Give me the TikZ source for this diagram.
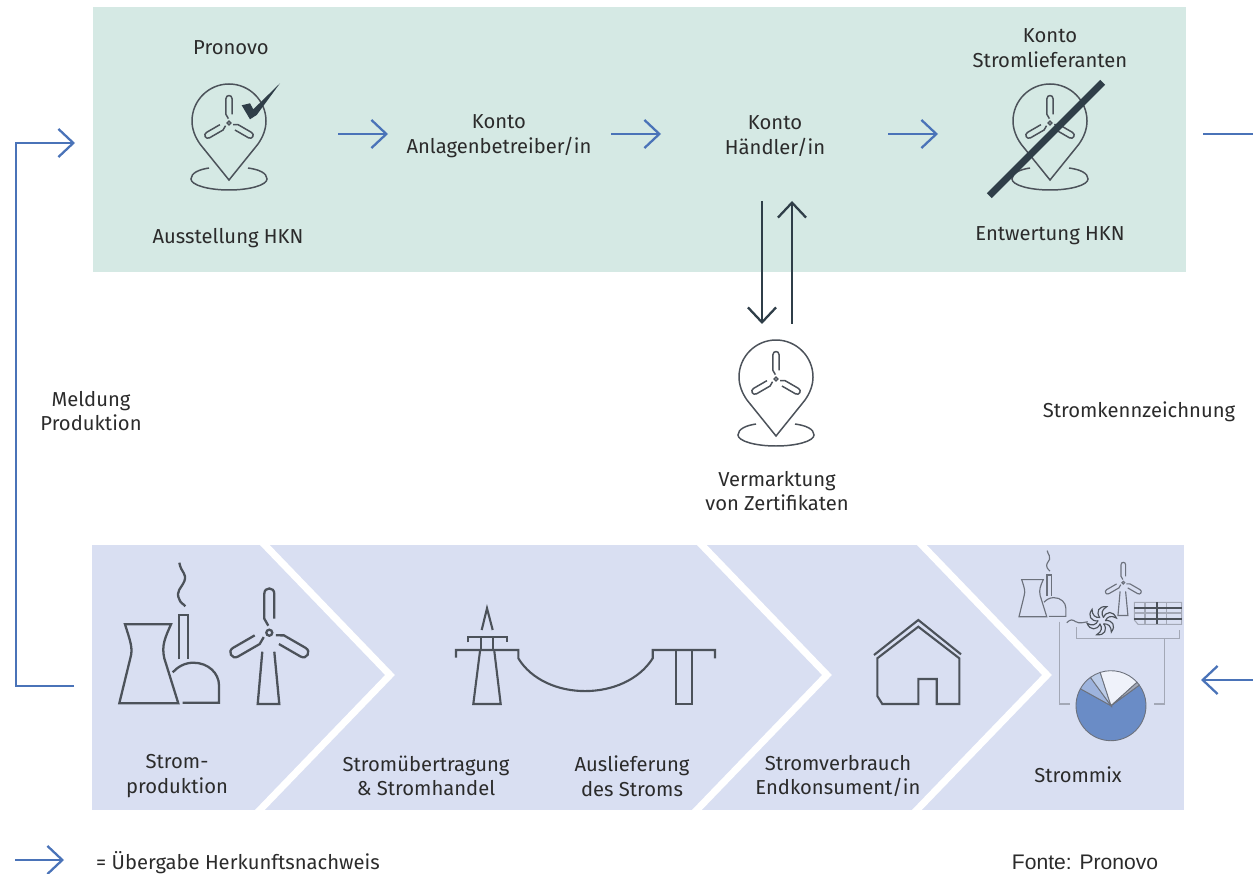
\documentclass[tikz,border=0pt]{standalone}
\usepackage{fontspec}
\setmainfont{Fira Sans}
\newfontfamily\sourcefont{Liberation Sans}
\usetikzlibrary{arrows.meta}
\definecolor{certgreen}{HTML}{D5E9E4}
\definecolor{chainblue}{HTML}{D9DFF2}
\definecolor{hknblue}{HTML}{4A73B8}
\definecolor{darkslate}{HTML}{2F3E48}
\definecolor{icongrey}{HTML}{4C525A}
\definecolor{thingrey}{HTML}{6C717C}
\definecolor{bracketgrey}{HTML}{A3A8B6}
\definecolor{labelgrey}{HTML}{2B2B2B}
\definecolor{piemain}{HTML}{6A8CC6}
\definecolor{piemid}{HTML}{9DB3DD}
\definecolor{pielight}{HTML}{BCCCE8}
\definecolor{piewhite}{HTML}{EFF2FA}

\begin{document}
\begin{tikzpicture}[x=0.02cm,y=-0.02cm,
            lbl/.style={align=center,text=labelgrey,font=\fontsize{11.5}{14}\selectfont,inner sep=0,outer sep=0},
            hkn arrow/.style={draw=hknblue,line width=1.3pt,-{Straight Barb[length=8.5pt,width=16pt,line width=1.3pt]}},
            hkn line/.style={draw=hknblue,line width=1.3pt},
            swap arrow/.style={draw=darkslate,line width=1.3pt,-{Straight Barb[length=8.5pt,width=16pt,line width=1.3pt]}},
            chevron/.style={draw=white,line width=4pt,miter limit=10},
            big icon/.style={color=icongrey,line width=1.3pt},
            pin icon/.style={color=icongrey,line width=0.85pt},
            small icon/.style={color=thingrey,line width=0.65pt},
            bracket/.style={draw=bracketgrey,line width=0.7pt},
            rotor/.pic={
                \foreach \a in {0,120,240}{
                \draw[rotate=\a] (-1,-7) -- (-5,-14) -- (-5,-39) .. controls (-5,-46) and (5,-46) .. (5,-39) -- (5,-14);
                }
                \draw (0,0) circle [radius=3];
            },
            mast/.pic={
                \draw (-7,19) -- (-11.6,71.3) -- (10,71.3) -- (5,19);
            },
            plant/.pic={
                \draw (0,0) -- (11,-45) .. controls (14,-55) and (11,-62) .. (5.7,-79) -- (51.7,-79)
                    .. controls (46,-66) and (42,-58) .. (45,-45) -- (59,0) -- cycle;
                \draw (59.4,-44) -- (59.4,-88.6) -- (68.4,-88.6) -- (68.4,-44);
                \draw (53.4,-31) .. controls (58,-36) and (65,-40.6) .. (74,-40.6)
                    .. controls (89,-40.6) and (99.7,-30) .. (99.7,-18) -- (99.7,-0.6) -- (63.4,-0.6);
                \draw (60,-140.6) .. controls (62,-130) and (68,-130) .. (65,-122)
                    .. controls (62,-115) and (56,-112) .. (60,-104) .. controls (61,-100) and (65,-99) .. (66,-97);
            },
            pin/.pic={
                \draw (0,59) -- (-28.8,23.3) .. controls (-34,16) and (-37,8) .. (-37,0)
                    .. controls (-37,-20.4) and (-20.4,-37) .. (0,-37)
                    .. controls (20.4,-37) and (37,-20.4) .. (37,0)
                    .. controls (37,8) and (34,16) .. (28.8,23.3) -- cycle;
                \draw (-20,47) .. controls (-30,48.5) and (-38,52) .. (-38,58)
                    .. controls (-38,64) and (-21,69) .. (0,69)
                    .. controls (21,69) and (38,64) .. (38,58)
                    .. controls (38,52) and (30,48.5) .. (19,47);
                \pic[scale=0.62] at (0,2) {rotor};
            }]
            \useasboundingbox (0,0) rectangle (1253,874);
            \fill[certgreen] (93,7) rectangle (1186,272);
            \fill[chainblue] (92,545) rectangle (1184,810);
            \foreach \x in {390,827,1047}{
            \draw[chevron] (\x-130,540) -- (\x,675) -- (\x-135,815);
            }
            %==================
            \pic[pin icon] (issue) at (229,121) {pin};
            \pic[pin icon] (cancel) at (1050,121) {pin};
            \pic[pin icon] (market) at (776,377) {pin};
            \fill[darkslate] (241.7,105.3) -- (250,103.3) -- (253.3,109.3) -- (280,83.3) -- (256.7,115) -- (250,119.3) -- cycle;
            \coordinate (s1) at (989.3,195.7);
            \coordinate (s2) at (1102.7,82.3);
            \draw[darkslate,line width=4pt] (s1) -- (s2);
            %==================
            \node[lbl] (pronovo) at (231,48) {Pronovo};
            \node[lbl] (ausstellung) at (228,238) {Ausstellung HKN};
            \node[lbl] (anlagen) at (499,136) {Konto\\Anlagenbetreiber/in};
            \node[lbl] (haendler) at (775,136) {Konto\\Händler/in};
            \node[lbl] (lieferant) at (1050,48) {Konto\\Stromlieferanten};
            \node[lbl] (entwertung) at (1050,236) {Entwertung HKN};
            \node[lbl] (meldung) at (91,411) {Meldung\\Produktion};
            \node[lbl] (kennz) at (1139,412) {Stromkennzeichnung};
            \node[lbl] (vermarktung) at (777,491) {Vermarktung\\von Zertifikaten};
            \node[lbl] (produktion) at (177,776) {Strom-\\produktion};
            \node[lbl] (handel) at (426,776) {Stromübertragung\\\& Stromhandel};
            \node[lbl] (auslieferung) at (632,776) {Auslieferung\\des Stroms};
            \node[lbl] (verbrauch) at (838,776) {Stromverbrauch\\Endkonsument/in};
            \node[lbl] (mix) at (1078,775) {Strommix};
            \node[lbl] (legend) at (238,863) {= Übergabe Herkunftsnachweis};
            \node[lbl,font=\sourcefont\fontsize{12}{14}\selectfont] (source) at (1085,862) {Fonte: Pronovo};
            % ===================
            \foreach \n/\x in {a/338,b/611,c/888}{
            \coordinate (\n1) at (\x,134);
            \coordinate (\n2) at (\x+50,134);
            \draw[hkn arrow] (\n1) -- (\n2);
            }
            \coordinate (d1) at (1203,134);
            \coordinate (d2) at (1253,134);
            \draw[hkn line] (d1) -- (d2);
            \coordinate (e1) at (1253,680);
            \coordinate (e2) at (1201,680);
            \draw[hkn arrow] (e1) -- (e2);
            \coordinate (f1) at (74,686);
            \coordinate (f2) at (16,686);
            \coordinate (f3) at (16,143);
            \coordinate (f4) at (75,143);
            \draw[hkn arrow] (f1) -- (f2) -- (f3) -- (f4);
            \coordinate (g1) at (15,860);
            \coordinate (g2) at (64,860);
            \draw[hkn arrow] (g1) -- (g2);
            \coordinate (h1) at (762,201);
            \coordinate (h2) at (762,324);
            \draw[swap arrow] (h1) -- (h2);
            \coordinate (i1) at (792,324);
            \coordinate (i2) at (792,201);
            \draw[swap arrow] (i1) -- (i2);
            % ===================
            \pic[big icon] (bigplant) at (119.3,703.3) {plant};
            \pic[big icon] (bigrotor) at (269.3,632.7) {rotor};
            \pic[big icon] (bigmast) at (269.3,632.7) {mast};
            % ===================
            \begin{scope}[big icon,line width=1.2pt]
            \draw (481.7,630) -- (487,608.3) -- (492.7,630);
            \draw (467.7,642.3) -- (467.7,637.3) -- (507,637.3) -- (507,642.3);
            \foreach \x in {480.7,492.7}{
            \draw (\x,637.3) -- (\x,650);
            }
            \draw (456,657.7) -- (456,650) -- (518.3,650) -- (518.3,658.3)
                .. controls (545,702) and (625,702) .. (652.7,658.3)
                -- (652.7,650) -- (715,650) -- (715,658.3);
            \draw (480,651) -- (473.3,704) -- (500.7,704) -- (494.3,651);
            \draw (675.7,650) -- (675.7,704) -- (691.7,704) -- (691.7,650);
            % ===================
            \draw (874,655) -- (918.3,620) -- (961,654.3);
            \draw (877.3,696) -- (877.3,658.3) -- (918.3,626.7) -- (959.3,658.3) -- (959.3,704) -- (936.7,704)
                -- (936.7,679) -- (918.3,679) -- (918.3,704) -- (882.3,704) -- cycle;
            \end{scope}
            % ===================
            \pic[small icon,scale=0.47] (smallplant) at (1019,616.7) {plant};
            \pic[small icon,scale=0.46] (smallrotor) at (1123.3,582.7) {rotor};
            \pic[small icon,scale=0.46] (smallmast) at (1123.3,582.7) {mast};
            \begin{scope}[small icon,shift={(1101.7,620.7)}]
            \foreach \a in {0,60,...,300}{
            \draw[rotate=\a,icongrey,line width=0.65pt] (2,-3) .. controls (-1,-7) and (0,-11) .. (5,-14) .. controls (-3,-15) and (-6,-9) .. (-2,-3);
            }
            \draw (-35,2) .. controls (-31,-2) and (-29,-1) .. (-26,1) .. controls (-22,3) and (-19,2) .. (-14,1);
            \end{scope}
            \draw[bracketgrey,line width=0.6pt] (1134.3,602.3) -- (1181.7,602.3) -- (1181.7,624.3) -- (1138,624.3) -- (1134.3,620) -- cycle;
            \foreach \x in {1145,1166.7}{
            \draw[bracketgrey,line width=0.6pt] (\x,602.3) -- (\x,624.3);
            }
            \draw[bracketgrey,line width=0.6pt] (1134.3,613) -- (1181.7,613);
            \draw[icongrey,line width=1.2pt] (1134.3,608.3) -- (1181.7,608.3);
            \draw[icongrey,line width=1.2pt] (1134.3,618.7) -- (1181.7,618.7);
            \draw[icongrey,line width=1.2pt] (1156.7,602.3) -- (1156.7,624.3);
            % ===================
            \coordinate (j1) at (1076.7,627.3);
            \coordinate (j2) at (1179.3,630);
            \draw[bracket] (j1) -- (1076.7,638.3) -| (j2);
            \coordinate (k1) at (1059.3,621.7);
            \coordinate (k2) at (1070,704);
            \draw[bracket] (k1) |- (k2);
            \coordinate (l1) at (1164.3,638.3);
            \coordinate (l2) at (1154,704);
            \draw[bracket] (l1) |- (l2);
            % ===================
            \begin{scope}[shift={(1111,705.7)},x=0.02cm,y=0.02cm]
            \foreach \s/\e/\c in {151/396/piemain,126/151/piemid,108/126/pielight,42/108/piewhite,36/42/bracketgrey}{
            \filldraw[fill=\c,draw=thingrey,line width=0.5pt] (0,0) -- (\s:35) arc (\s:\e:35) -- cycle;
            }
            \end{scope}
        \end{tikzpicture}
\end{document}
